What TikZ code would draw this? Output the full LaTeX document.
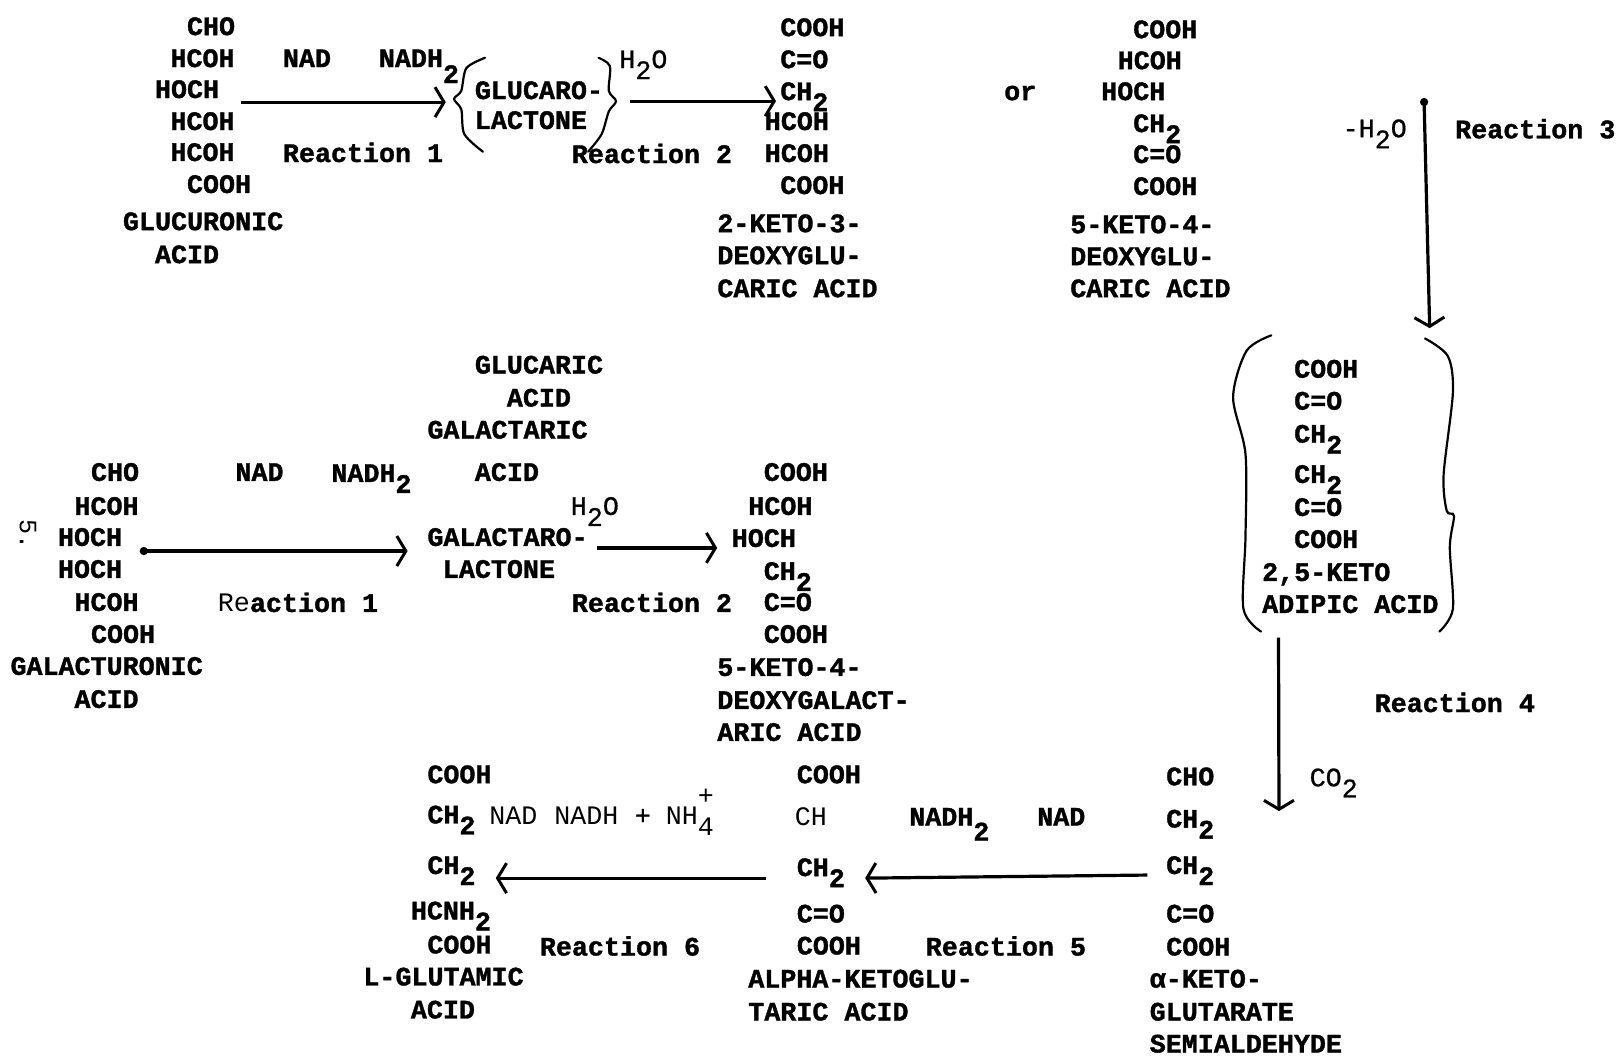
\documentclass[tikz,border=0pt]{standalone}
\usepackage{fontspec}
\setmainfont[BoldFeatures={FakeBold=1.3}]{Liberation Mono}
\newfontfamily\midfont[FakeBold=0.7]{Liberation Mono}
\usetikzlibrary{arrows.meta}
\newcommand\lowtwo{\raisebox{-11pt}{2}}
\tikzset{
  chem/.style={font=\fontsize{26.7}{30}\selectfont\bfseries,anchor=base west,inner sep=0pt},
  chemlight/.style={font=\fontsize{26.7}{30}\selectfont,anchor=base west,inner sep=0pt},
  chemmid/.style={font=\fontsize{26.7}{30}\selectfont\midfont,anchor=base west,inner sep=0pt},
  rxn/.style={line width=3.2pt,-{Straight Barb[length=9pt,width=30pt,line width=3pt]}},
  rxndot/.style={line width=3.2pt,{Circle[length=8pt]}-{Straight Barb[length=9pt,width=30pt,line width=3pt]}},
  curl/.style={line width=2.2pt,line cap=round},
}
\begin{document}
\begin{tikzpicture}[x=1.032pt,y=-1.032pt]
  \useasboundingbox (0,0) rectangle (1568,1023);
  % glucuronic row
  \foreach \i/\x/\y/\t in {1/181/34/CHO,2/165/65/HCOH,3/150/95/HOCH,4/165/126/HCOH,5/165/156/HCOH,6/181/187/COOH,7/119/223/GLUCURONIC,8/150/255/ACID}
    \node[chem] (gluA\i) at (\x,\y) {\t};
  \node[chem] (gluNad) at (274,65) {NAD};
  \node[chem] (gluNadh) at (367,65) {NADH\raisebox{-16pt}{2}};
  \node[chem] (gluRone) at (274,157) {Reaction 1};
  \node[chem] (gluLacA) at (460,96) {GLUCARO-};
  \node[chem] (gluLacB) at (460,125) {LACTONE};
  \node[chemmid] (gluWater) at (600,66) {H\lowtwo O};
  \node[chem] (gluRtwo) at (554,158) {Reaction 2};
  \draw[curl] plot[smooth] coordinates {(470,56) (452,66) (447,88) (440,96) (447,106) (450,130) (468,147)};
  \draw[curl] plot[smooth] coordinates {(580,56) (591,64) (590,88) (597,98) (590,108) (583,130) (570,147)};
  \foreach \i/\x/\y/\t in {1/756/35/COOH,2/756/66/C=O,3/756/97/CH\lowtwo,4/741/126/HCOH,5/741/157/HCOH,6/756/188/COOH,7/695/225/2-KETO-3-,8/695/256/DEOXYGLU-,9/695/288/CARIC ACID}
    \node[chem] (dgtA\i) at (\x,\y) {\t};
  \node[chem] (orWord) at (973,97) {or};
  \foreach \i/\x/\y/\t in {1/1098/37/COOH,2/1083/67/HCOH,3/1067/97/HOCH,4/1098/128/CH\lowtwo,5/1098/158/C=O,6/1098/189/COOH,7/1037/226/5-KETO-4-,8/1037/257/DEOXYGLU-,9/1037/288/CARIC ACID}
    \node[chem] (dgtB\i) at (\x,\y) {\t};
  \draw[rxn] ([shift={(21,4)}]gluA3.base east) -- ([shift={(-28,3)}]gluLacA.base west);
  \draw[rxn] ([shift={(26,2)}]gluLacA.base east) -- ([shift={(-4,1)}]dgtA3.base west);
  % adipic column
  \node[chemmid] (adiWater) at (1301,133) {-H\lowtwo O};
  \node[chem] (adiRthree) at (1410,134) {Reaction 3};
  \coordinate (adiTop) at (1380,95);
  \foreach \i/\x/\y/\t in {1/1254/366/COOH,2/1254/397/C=O,3/1254/429/CH\lowtwo,4/1254/468/CH\lowtwo,5/1254/500/C=O,6/1254/531/COOH,7/1223/563/{2,5-KETO},8/1223/594/ADIPIC ACID}
    \node[chem] (adiA\i) at (\x,\y) {\t};
  \draw[curl] plot[smooth] coordinates {(1232,325) (1208,340) (1195,385) (1207,440) (1207,520) (1205,590) (1222,612)};
  \draw[curl] plot[smooth] coordinates {(1381,328) (1403,345) (1408,380) (1399,460) (1402,495) (1409,500) (1405,530) (1408,590) (1395,612)};
  \draw[rxndot] (adiTop) -- ([shift={(69,-48)}]adiA1.base east);
  \node[chem] (adiRfour) at (1332,690) {Reaction 4};
  \node[chemmid] (adiCarbon) at (1269,762) {CO\lowtwo};
  % galacturonic row
  \foreach \i/\x/\y/\t in {1/88/466/CHO,2/72/499/HCOH,3/56/529/HOCH,4/56/560/HOCH,5/72/592/HCOH,6/88/623/COOH,7/10/654/GALACTURONIC,8/72/686/ACID}
    \node[chem] (galA\i) at (\x,\y) {\t};
  \node[chemlight,rotate=-90,font=\fontsize{25}{28}\selectfont,anchor=center] (pageMark) at (27,518) {5.};
  \node[chem] (galNad) at (228,466) {NAD};
  \node[chem] (galNadh) at (321,467) {NADH\lowtwo};
  \node[chem] (galRone) at (211,593) {\mdseries Re\bfseries action 1};
  \foreach \i/\x/\y/\t in {1/460/362/GLUCARIC,2/491/394/ACID,3/414/425/GALACTARIC,4/460/466/ACID}
    \node[chem] (galName\i) at (\x,\y) {\t};
  \node[chem] (galLacA) at (414,529) {GALACTARO-};
  \node[chem] (galLacB) at (429,560) {LACTONE};
  \node[chemmid] (galWater) at (553,499) {H\lowtwo O};
  \node[chem] (galRtwo) at (554,593) {Reaction 2};
  \foreach \i/\x/\y/\t in {1/740/466/COOH,2/725/499/HCOH,3/709/530/HOCH,4/740/562/CH\lowtwo,5/740/592/C=O,6/740/623/COOH,7/695/655/5-KETO-4-,8/695/687/DEOXYGALACT-,9/695/718/ARIC ACID}
    \node[chem] (dgaA\i) at (\x,\y) {\t};
  \draw[rxndot] ([shift={(17,5)}]galA3.base east) -- ([shift={(-19,5)}]galLacA.base west);
  \draw[rxn] ([shift={(9,2)}]galLacA.base east) -- ([shift={(-14,1)}]dgaA3.base west);
  % bottom row
  \foreach \i/\x/\y/\t in {1/414/759/COOH,2/414/798/CH\lowtwo,3/414/847/CH\lowtwo,4/398/891/HCNH\lowtwo,5/414/924/COOH,6/352/955/L-GLUTAMIC,7/398/987/ACID}
    \node[chem] (lguA\i) at (\x,\y) {\t};
  \node[chemlight] (lguNad) at (474,799) {NAD};
  \node[chemlight] (lguNadh) at (537,799) {NADH};
  \node[chemmid] (lguPlus) at (615,799) {+};
  \node[chemlight] (lguAmm) at (645,799) {NH\rlap{\raisebox{20pt}{+}}\raisebox{-11pt}{4}};
  \node[chem] (lguRsix) at (523,926) {Reaction 6};
  \foreach \i/\x/\y/\t in {1/772/759/COOH,3/772/849/CH\lowtwo,4/772/894/C=O,5/772/925/COOH,6/725/957/ALPHA-KETOGLU-,7/725/989/TARIC ACID}
    \node[chem] (akgA\i) at (\x,\y) {\t};
  \node[chemlight] (akgA2) at (770,800) {CH};
  \node[chem] (akgNadh) at (881,800) {NADH\raisebox{-15pt}{2}};
  \node[chem] (akgNad) at (1005,800) {NAD};
  \node[chem] (akgRfive) at (897,926) {Reaction 5};
  \foreach \i/\x/\y/\t in {1/1130/761/CHO,2/1130/802/CH\lowtwo,3/1130/847/CH\lowtwo,4/1130/894/C=O,5/1130/926/COOH,6/1114/957/α-KETO-,7/1114/989/GLUTARATE,8/1114/1020/SEMIALDEHYDE}
    \node[chem] (csaA\i) at (\x,\y) {\t};
  \draw[rxn] ([shift={(16,24)}]adiA8.base west) -- ([shift={(62.5,25)}]csaA1.base east);
  \draw[rxn] ([shift={(-18,1)}]csaA3.base west) -- ([shift={(19.5,2)}]akgA3.base east);
  \draw[rxn] ([shift={(-30,2)}]akgA3.base west) -- ([shift={(19.5,4)}]lguA3.base east);
\end{tikzpicture}
\end{document}
